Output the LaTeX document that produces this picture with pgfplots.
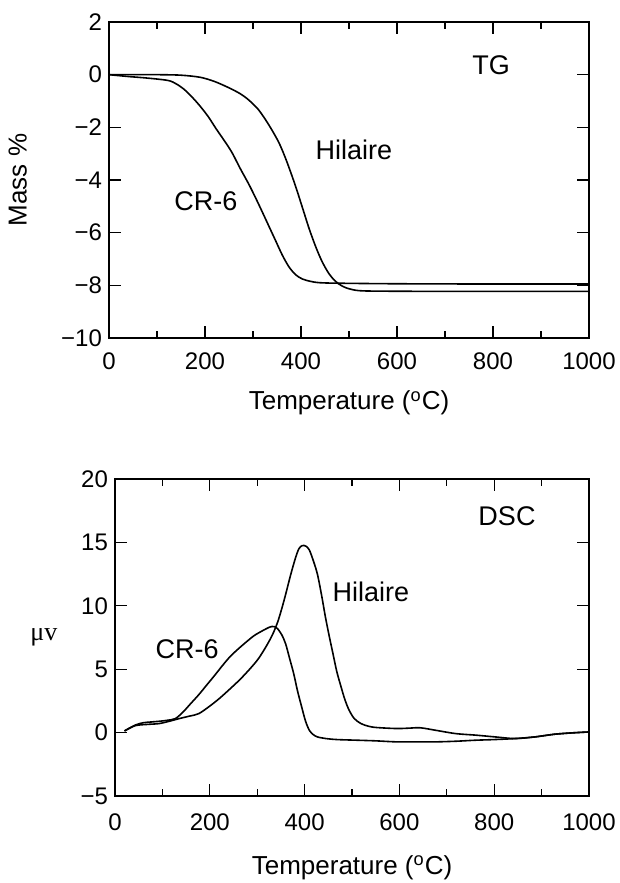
\documentclass[border=0pt]{standalone}
\usepackage{pgfplots}
\pgfplotsset{compat=1.18}
\usepackage{fontspec}
\setmainfont{Liberation Sans}
\newfontfamily\serif{Liberation Serif}

\pgfplotsset{
  tg/.style={
    scale only axis,
    xmin=0, xmax=1000, xtick={0,200,...,1000}, minor x tick num=1,
    xticklabels={0,200,400,600,800,1000},
    tick pos=both, tick align=inside,
    major tick length=6pt, minor tick length=3.5pt,
    axis line style={line width=0.6pt}, every tick/.style={black, line width=0.6pt},
    /pgf/number format/assume math mode=true,
    tick label style={font=\fontsize{12}{14}\selectfont},
    label style={font=\fontsize{13}{15}\selectfont},
    cycle list={{black}},
    every axis plot/.append style={black, line width=0.8pt, no marks, smooth},
  },
}

\begin{document}
\begin{tikzpicture}
\useasboundingbox (0,0) rectangle (310pt,-441.5pt);

% TG
\begin{axis}[tg, at={(54.5pt,-11pt)}, anchor=north west, width=240pt, height=158pt,
  ymin=-10, ymax=2, ytick={-10,-8,...,2},
  yticklabels={−10,−8,−6,−4,−2,0,2},
  xticklabel style={yshift=-4pt},
  xlabel={Temperature (\textsuperscript{o}C)},
  ylabel={Mass \%},
  xlabel style={at={(axis description cs:0.5,-0.206)}, anchor=center},
  ylabel style={at={(axis description cs:-0.19,0.5)}, anchor=center},
]
% Hilaire
\addplot coordinates {
(0,0) (50,0) (100,0) (150,-0.02) (190,-0.1) (220,-0.26) (250,-0.5) (273,-0.72)
(291,-0.96) (310,-1.3) (325,-1.68) (340,-2.12) (355,-2.62) (370,-3.28) (388,-4.2)
(403,-5.05) (417,-5.85) (431,-6.55) (444,-7.1) (458,-7.55) (472,-7.85) (486,-8.03)
(500,-8.13) (520,-8.2) (560,-8.22) (700,-8.23) (850,-8.23) (1000,-8.23)};
% CR-6
\addplot coordinates {
(0,0) (40,-0.07) (80,-0.13) (123,-0.22) (140,-0.35) (156,-0.55) (173,-0.85) (190,-1.2)
(207,-1.6) (223,-2.05) (240,-2.5) (256,-2.95) (273,-3.55) (291,-4.15) (306,-4.7)
(319,-5.2) (333,-5.75) (347,-6.3) (361,-6.85) (375,-7.3) (389,-7.6) (403,-7.76)
(420,-7.85) (439,-7.9) (480,-7.92) (600,-7.94) (800,-7.95) (1000,-7.95)};
\node[font=\fontsize{13.5}{15}\selectfont] at (axis cs:796,0.36) {TG};
\node[font=\fontsize{13.5}{15}\selectfont] at (axis cs:510,-2.86) {Hilaire};
\node[font=\fontsize{13.5}{15}\selectfont] at (axis cs:202,-4.82) {CR-6};
\end{axis}

% DSC
\begin{axis}[tg, at={(57.5pt,-239.5pt)}, anchor=north west, width=237pt, height=158.5pt,
  ymin=-5, ymax=20, ytick={-5,0,...,20},
  yticklabels={−5,0,5,10,15,20},
  xticklabel style={yshift=-5.5pt},
  xlabel={Temperature (\textsuperscript{o}C)},
  ylabel={{\serif μv}},
  xlabel style={at={(axis description cs:0.5,-0.227)}, anchor=center},
  ylabel style={at={(axis description cs:-0.15,0.5)}, anchor=center, rotate=-90},
]
% Hilaire
\addplot coordinates {
(20,0.13) (43,0.55) (70,0.65) (93,0.71) (115,0.9) (135,1.1) (157,1.3) (177,1.5)
(202,2.15) (222,2.75) (243,3.46) (264,4.2) (285,5.04) (302,5.8) (318,6.74) (332,7.7)
(343,8.7) (352,9.8) (360,10.9) (371,12.5) (381,13.8) (388,14.5) (395,14.75)
(403,14.7) (410,14.4) (418,13.6) (427,12.5) (436,10.8) (444,9.1) (452,7.6) (460,6.2)
(468,4.8) (477,3.6) (485,2.6) (494,1.76) (505,1.1) (519,0.71) (535,0.5) (552,0.4)
(594,0.32) (620,0.35) (644,0.38) (677,0.18) (719,-0.08) (761,-0.2) (802,-0.34)
(844,-0.47) (886,-0.34) (927,-0.13) (965,-0.02) (1000,0.05)};
% CR-6
\addplot coordinates {
(20,0.13) (43,0.6) (60,0.78) (77,0.84) (95,0.9) (110,0.97) (127,1.1) (143,1.6)
(160,2.3) (177,3.0) (193,3.73) (210,4.5) (227,5.3) (243,6.0) (260,6.6) (277,7.15)
(294,7.66) (312,8.05) (325,8.3) (331,8.37) (337,8.35) (343,8.2) (352,7.7) (360,7.0)
(368,5.9) (377,4.65) (385,3.3) (394,2.0) (402,0.9) (410,0.18) (418,-0.15) (427,-0.34)
(445,-0.47) (469,-0.55) (510,-0.6) (550,-0.65) (594,-0.73) (640,-0.73) (677,-0.73)
(720,-0.68) (761,-0.6) (800,-0.55) (844,-0.47) (886,-0.34) (927,-0.13) (965,-0.02) (1000,0.05)};
\node[font=\fontsize{13.5}{15}\selectfont] at (axis cs:827,17.1) {DSC};
\node[font=\fontsize{13.5}{15}\selectfont] at (axis cs:540,11.1) {Hilaire};
\node[font=\fontsize{13.5}{15}\selectfont] at (axis cs:152,6.6) {CR-6};
\end{axis}
\end{tikzpicture}
\end{document}
